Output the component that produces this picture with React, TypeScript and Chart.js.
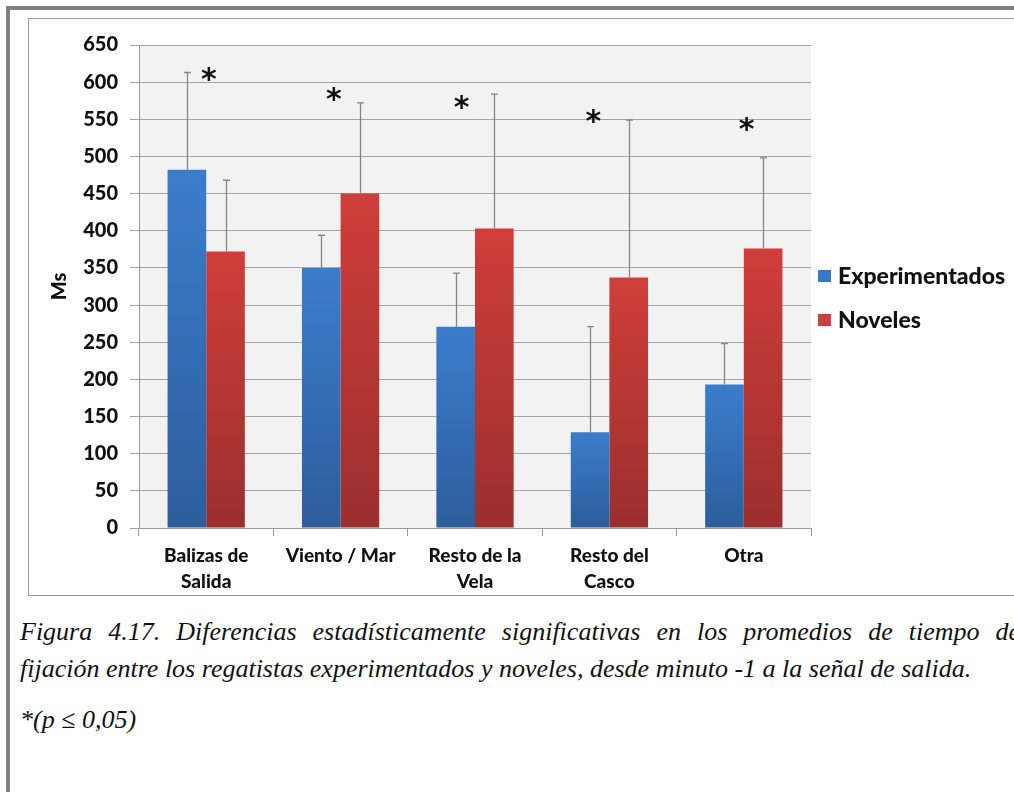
import React, { useEffect, useRef } from "react";
import { Chart, registerables } from "chart.js";

Chart.register(...registerables);

const categories: string[][] = [
  ["Balizas de", "Salida"],
  ["Viento / Mar"],
  ["Resto de la", "Vela"],
  ["Resto del", "Casco"],
  ["Otra"],
];
const seriesNames = ["Experimentados", "Noveles"];
const experimentados = [482, 350, 271, 129, 193];
const noveles = [372, 450, 403, 337, 376];
const errExperimentados = [131, 44, 72, 142, 55];
const errNoveles = [96, 122, 181, 212, 122];
const asteriskY = [610, 583, 572, 553, 542];
const asteriskOffset = [0.02, -0.05, -0.1, -0.12, 0.02];
const yMin = 0;
const yMax = 650;
const yStep = 50;
const yTitle = "Ms";
const caption1 =
  "Figura 4.17. Diferencias estadísticamente significativas en los promedios de tiempo de";
const caption2 =
  "fijación entre los regatistas experimentados y noveles, desde minuto -1 a la señal de salida.";
const caption3 = "*(p ≤ 0,05)";

const errors = [errExperimentados, errNoveles];
const gradStops = [
  ["#3b7dcc", "#2d5d9b"],
  ["#d03e3a", "#9a2f2d"],
];
const legendColors = ["#3a78c8", "#c9403c"];

function gradFill(idx: number) {
  return (ctx: any) => {
    const chart = ctx.chart;
    if (!chart.chartArea) return gradStops[idx][0];
    const y = chart.scales.y;
    const v = ctx.raw as number;
    const top = y.getPixelForValue(v);
    const bottom = y.getPixelForValue(0);
    const g = chart.ctx.createLinearGradient(0, top, 0, bottom);
    g.addColorStop(0, gradStops[idx][0]);
    g.addColorStop(1, gradStops[idx][1]);
    return g;
  };
}

const bgPlugin = {
  id: "plotBg",
  beforeDraw(chart: any) {
    const { ctx, chartArea } = chart;
    ctx.save();
    ctx.fillStyle = "#f2f2f2";
    ctx.fillRect(chartArea.left, chartArea.top, chartArea.right - chartArea.left, chartArea.bottom - chartArea.top);
    ctx.restore();
  },
};

const extrasPlugin = {
  id: "extras",
  afterDatasetsDraw(chart: any) {
    const { ctx } = chart;
    const y = chart.scales.y;
    const x = chart.scales.x;
    ctx.save();
    // error bars
    ctx.strokeStyle = "#858585";
    ctx.lineWidth = 1.3;
    chart.data.datasets.forEach((ds: any, di: number) => {
      const meta = chart.getDatasetMeta(di);
      meta.data.forEach((bar: any, i: number) => {
        const v = ds.data[i];
        const top = y.getPixelForValue(v + errors[di][i]);
        const base = y.getPixelForValue(v);
        const cx = Math.round(bar.x) + 0.5;
        ctx.beginPath();
        ctx.moveTo(cx, base);
        ctx.lineTo(cx, top);
        ctx.moveTo(cx - 3.5, top);
        ctx.lineTo(cx + 3.5, top);
        ctx.stroke();
      });
    });
    // asterisks
    ctx.fillStyle = "#111";
    ctx.font = "bold 30px 'DejaVu Sans'";
    ctx.textAlign = "center";
    ctx.textBaseline = "middle";
    const w = x.getPixelForValue(1) - x.getPixelForValue(0);
    asteriskY.forEach((v, i) => {
      const px = x.getPixelForValue(i) + asteriskOffset[i] * w;
      const py = y.getPixelForValue(v);
      ctx.fillText("*", px, py + 6);
    });
    // legend
    ctx.font = "900 23px Lato";
    ctx.textAlign = "left";
    ctx.textBaseline = "middle";
    chart.data.datasets.forEach((ds: any, di: number) => {
      const ly = 256 + di * 44;
      ctx.fillStyle = legendColors[di];
      ctx.fillRect(788, ly - 6, 13, 12);
      ctx.fillStyle = "#111";
      ctx.fillText(ds.label, 808, ly + 1);
    });
    ctx.restore();
  },
};

export default function App() {
  const ref = useRef<HTMLCanvasElement>(null);
  useEffect(() => {
    if (!ref.current) return;
    const chart = new Chart(ref.current, {
      type: "bar",
      data: {
        labels: categories,
        datasets: [
          { label: seriesNames[0], data: experimentados, backgroundColor: gradFill(0) as any, borderWidth: 0 },
          { label: seriesNames[1], data: noveles, backgroundColor: gradFill(1) as any, borderWidth: 0 },
        ],
      },
      options: {
        animation: false,
        responsive: true,
        maintainAspectRatio: false,
        datasets: { bar: { categoryPercentage: 0.575, barPercentage: 1 } },
        layout: { padding: { top: 25, right: 209, left: 0, bottom: 0 } },
        plugins: { legend: { display: false }, tooltip: { enabled: false } },
        scales: {
          x: {
            grid: { display: true, drawOnChartArea: false, tickLength: 8, color: "#9a9a9a" },
            border: { display: true, color: "#9a9a9a", width: 1 },
            ticks: { color: "#111", font: { family: "Lato", weight: "900", size: 19, lineHeight: 1.35 }, padding: 7, maxRotation: 0, autoSkip: false },
            afterFit: (s: any) => { s.height = 68; },
          } as any,
          y: {
            min: yMin,
            max: yMax,
            ticks: { stepSize: yStep, color: "#111", font: { family: "Lato", weight: "900", size: 20 }, padding: 12 },
            grid: { color: "#a3a3a3", tickLength: 9, lineWidth: 1 },
            border: { display: true, color: "#9a9a9a" },
            title: { display: true, text: yTitle, color: "#111", font: { family: "Lato", weight: "900", size: 20 }, padding: { top: 18, bottom: 0 } },
            afterFit: (s: any) => { s.width = 109; },
          } as any,
        },
      },
      plugins: [bgPlugin, extrasPlugin],
    });
    return () => chart.destroy();
  }, []);

  return (
    <div style={{ position: "fixed", left: 0, top: 0, width: 1014, height: 792, overflow: "hidden", background: "#fff" }}>
      <div style={{ position: "absolute", left: 6, top: 6, width: 1100, height: 4, background: "#808080" }} />
      <div style={{ position: "absolute", left: 6, top: 6, width: 4, height: 800, background: "#808080" }} />
      <div style={{ position: "absolute", left: 28, top: 18, width: 1100, height: 578, border: "1px solid #9a9a9a", boxSizing: "border-box" }} />
      <div style={{ position: "absolute", left: 30, top: 20, width: 990, height: 576 }}>
        <canvas ref={ref} />
      </div>
      <div style={{ position: "absolute", left: 20, top: 613, width: 1000, fontFamily: "'Liberation Serif', serif", fontStyle: "italic", fontSize: 26, color: "#111", lineHeight: "37px" }}>
        <div style={{ textAlign: "justify", textAlignLast: "justify" }}>{caption1}</div>
        <div>{caption2}</div>
        <div style={{ marginTop: 14 }}>{caption3}</div>
      </div>
    </div>
  );
}
